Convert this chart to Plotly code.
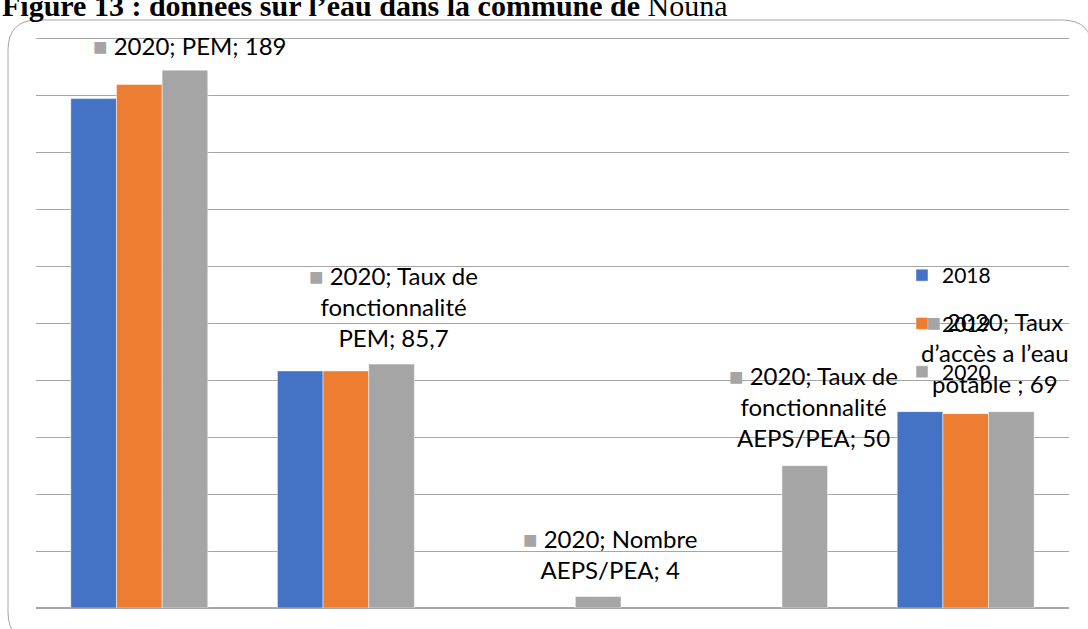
import plotly.graph_objects as go

categories = ["PEM", "Taux de fonctionnalité PEM", "Nombre AEPS/PEA",
              "Taux de fonctionnalité AEPS/PEA", "Taux d'accès a l'eau potable"]
years = ["2018", "2019", "2020"]
values_2018 = [179, 83.3, None, None, 69]
values_2019 = [184, 83.3, None, None, 68.3]
values_2020 = [189, 85.7, 4, 50, 69]
label_texts = ["2020; PEM; 189",
               "2020; Taux de<br>fonctionnalité<br>PEM; 85,7",
               "2020; Nombre<br>AEPS/PEA; 4",
               "2020; Taux de<br>fonctionnalité<br>AEPS/PEA; 50",
               "2020; Taux<br>d\u2019accès a l\u2019eau<br>potable ; 69"]
colors = ["#4472C4", "#ED7D31", "#A5A5A5"]

W, H = 1088, 629
ML, MR, MT, MB = 36, 19, 36, 21
pw, ph = W - ML - MR, H - MT - MB

def px(x):
    return (x - ML) / pw

def py(y):
    return (H - MB - y) / ph

fig = go.Figure()
for name, vals, col in zip(years, [values_2018, values_2019, values_2020], colors):
    fig.add_trace(go.Bar(x=categories, y=vals, name=name, legendgroup=name,
                         marker=dict(color=col, line=dict(color="rgba(255,255,255,0.6)", width=0.8))))

font = "Lato, Carlito, sans-serif"
# label offsets (pixels) relative to category center / bar top
offsets = [(50, 25), (48, 58), (57, 43), (54, 59), (29, 59)]
annotations = []
for cat, v, t, (dx, dy) in zip(categories, values_2020, label_texts, offsets):
    annotations.append(dict(
        x=cat, y=v, xref="x", yref="y", xshift=dx, yshift=dy,
        text='<span style="color:#A5A5A5">\u25A0</span> ' + t,
        showarrow=False, xanchor="center", yanchor="middle", align="center",
        font=dict(family=font, size=24, color="#000000")))

annotations.append(dict(
    x=px(0), y=py(24), xref="paper", yref="paper", xanchor="left", yanchor="bottom",
    text="<b>Figure 13 : données sur l\u2019eau dans la commune de</b> Nouna",
    showarrow=False, font=dict(family="Liberation Serif, Times New Roman, serif", size=30, color="#000")))

# rounded chart-area border
x0, x1, y0, y1, r = 8, 1092, 20, 642, 30
path = (f"M {px(x0+r)},{py(y0)} L {px(x1-r)},{py(y0)} "
        f"Q {px(x1)},{py(y0)} {px(x1)},{py(y0+r)} L {px(x1)},{py(y1-r)} "
        f"Q {px(x1)},{py(y1)} {px(x1-r)},{py(y1)} L {px(x0+r)},{py(y1)} "
        f"Q {px(x0)},{py(y1)} {px(x0)},{py(y1-r)} L {px(x0)},{py(y0+r)} "
        f"Q {px(x0)},{py(y0)} {px(x0+r)},{py(y0)} Z")

fig.update_layout(
    width=W, height=H,
    margin=dict(l=ML, r=MR, t=MT, b=MB),
    paper_bgcolor="white", plot_bgcolor="white",
    barmode="group", bargap=0.337, bargroupgap=0,
    showlegend=True,
    legend=dict(x=px(902), y=py(255), xanchor="left", yanchor="top",
                font=dict(family=font, size=21, color="#000"),
                traceorder="grouped", tracegroupgap=18,
                bgcolor="rgba(0,0,0,0)"),
    xaxis=dict(range=[-0.5, 4.5], autorange=False, showticklabels=False,
               showgrid=False, ticks="", showline=False),
    yaxis=dict(range=[0, 201], autorange=False,
               tickvals=[20, 40, 60, 80, 100, 120, 140, 160, 180, 200],
               showticklabels=False, ticks="",
               showgrid=True, gridcolor="#A6A6A6", gridwidth=1,
               zeroline=True, zerolinecolor="#A6A6A6", zerolinewidth=1.5),
    annotations=annotations,
    shapes=[dict(type="path", path=path, xref="paper", yref="paper",
                 line=dict(color="#A6A6A6", width=1), layer="above")],
)

fig.write_html("out.html", config={"displayModeBar": False},
               post_script="document.body.style.margin='0';document.body.style.overflow='hidden';")
